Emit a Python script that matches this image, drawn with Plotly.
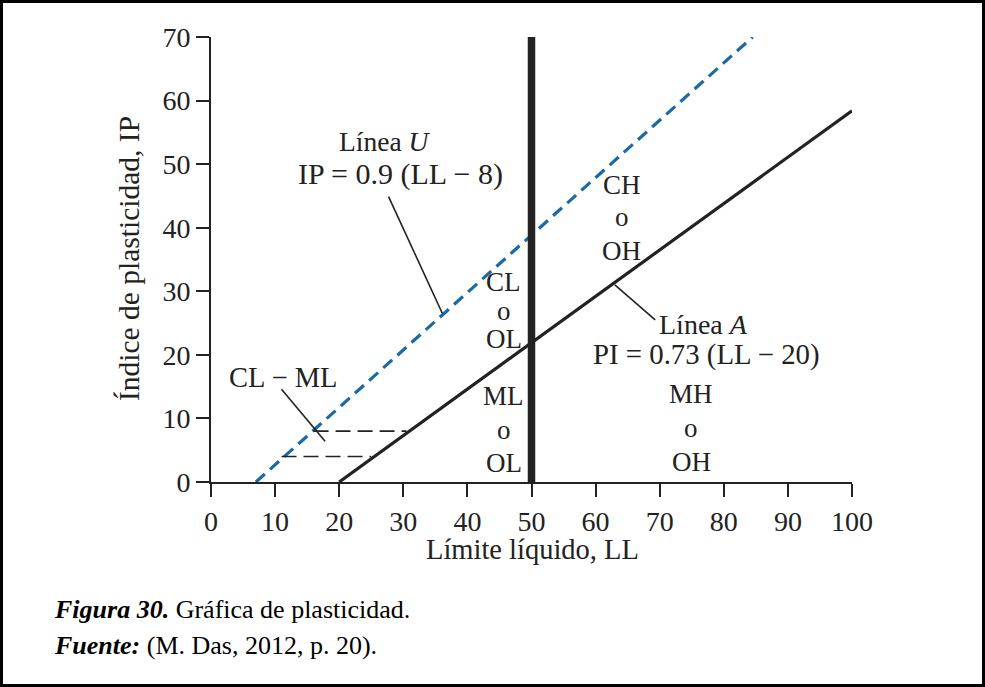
import plotly.graph_objects as go

# ---- data ----
u_line_ll = [7, 84.5]
u_line_ip = [0, 70]
a_line_ll = [20, 100]
a_line_ip = [0, 58.4]
div_ll = [50, 50]
div_ip = [0, 70]
clml_upper_ll = [16, 30.5]
clml_upper_ip = [8, 8]
clml_lower_ll = [11, 25]
clml_lower_ip = [4, 4]
leader_u_ll = [27.7, 36.1]
leader_u_ip = [44.9, 26.5]
leader_a_ll = [63.0, 69.3]
leader_a_ip = [31.0, 25.5]
leader_clml_ll = [11.0, 17.8]
leader_clml_ip = [14.6, 6.4]

x_ticks = [0, 10, 20, 30, 40, 50, 60, 70, 80, 90, 100]
y_ticks = [0, 10, 20, 30, 40, 50, 60, 70]

# (text, LL, IP, font size)
labels = [
    ("Línea <i>U</i>", 27.1, 53.5, 27.5),
    ("IP = 0.9 (LL − 8)", 29.6, 48.4, 30),
    ("CH", 64.1, 46.7, 27), ("o", 64.1, 41.7, 27), ("OH", 64.1, 36.4, 27),
    ("CL", 45.7, 31.4, 27), ("o", 45.7, 26.9, 27), ("OL", 45.7, 22.5, 27),
    ("ML", 45.7, 13.5, 27), ("o", 45.7, 8.2, 27), ("OL", 45.7, 3.0, 27),
    ("Línea <i>A</i>", 76.9, 24.7, 28),
    ("PI = 0.73 (LL − 20)", 77.3, 20.1, 28.8),
    ("MH", 74.9, 13.9, 27), ("o", 74.9, 8.5, 27), ("OH", 74.9, 3.2, 27),
    ("CL − ML", 11.2, 16.4, 28.5),
]

# ---- layout geometry ----
W, H = 985, 687
L, R, T, B = 211, 852, 37, 482
def px(x): return (x - L) / (R - L)
def py(y): return (B - y) / (B - T)

FONT = "Liberation Serif"
INK = "#222222"
BLUE = "#1a6aa8"

fig = go.Figure()
fig.add_trace(go.Scatter(x=u_line_ll, y=u_line_ip, mode="lines",
                         line=dict(color=BLUE, width=3.2, dash="12px,7px")))
fig.add_trace(go.Scatter(x=a_line_ll, y=a_line_ip, mode="lines",
                         line=dict(color=INK, width=3.2)))
fig.add_trace(go.Scatter(x=div_ll, y=div_ip, mode="lines",
                         line=dict(color=INK, width=7.5)))
for xs, ys in [(clml_upper_ll, clml_upper_ip), (clml_lower_ll, clml_lower_ip)]:
    fig.add_trace(go.Scatter(x=xs, y=ys, mode="lines",
                             line=dict(color=INK, width=1.6, dash="15px,7px")))
for xs, ys in [(leader_u_ll, leader_u_ip), (leader_a_ll, leader_a_ip),
               (leader_clml_ll, leader_clml_ip)]:
    fig.add_trace(go.Scatter(x=xs, y=ys, mode="lines",
                             line=dict(color=INK, width=1.6)))

anns = []
for txt, x, y, fs in labels:
    anns.append(dict(text=txt, x=x, y=y, xref="x", yref="y", showarrow=False,
                     font=dict(family=FONT, size=fs, color=INK),
                     xanchor="center", yanchor="middle"))
# axis titles
anns.append(dict(text="Límite líquido, LL", x=px(532), y=py(549), xref="paper", yref="paper",
                 showarrow=False, font=dict(family=FONT, size=28.5, color=INK),
                 xanchor="center", yanchor="middle"))
anns.append(dict(text="Índice de plasticidad, IP", x=px(129), y=py(259), xref="paper", yref="paper",
                 showarrow=False, textangle=-90, font=dict(family=FONT, size=29.5, color=INK),
                 xanchor="center", yanchor="middle"))
# caption
anns.append(dict(text="<b><i>Figura 30.</i></b> Gráfica de plasticidad.", x=px(52), y=py(609),
                 xref="paper", yref="paper", showarrow=False,
                 font=dict(family=FONT, size=26, color="#000"), xanchor="left", yanchor="middle"))
anns.append(dict(text="<b><i>Fuente:</i></b> (M. Das, 2012, p. 20).", x=px(52), y=py(645),
                 xref="paper", yref="paper", showarrow=False,
                 font=dict(family=FONT, size=26, color="#000"), xanchor="left", yanchor="middle"))

shapes = [dict(type="rect", xref="paper", yref="paper",
               x0=px(1.5), x1=px(983.5), y0=py(685.5), y1=py(1.5),
               line=dict(color="#000", width=3), fillcolor="rgba(0,0,0,0)", layer="above")]

axis_common = dict(showgrid=False, zeroline=False, showline=True, linecolor=INK, linewidth=2,
                   ticks="outside", ticklen=13, tickwidth=2, tickcolor=INK,
                   tickfont=dict(family=FONT, size=28, color=INK))

fig.update_layout(
    width=W, height=H, autosize=False,
    margin=dict(l=L, r=W - R, t=T, b=H - B, pad=0),
    paper_bgcolor="white", plot_bgcolor="white",
    showlegend=False,
    xaxis=dict(range=[0, 100], tickvals=x_ticks, **axis_common),
    yaxis=dict(range=[0, 70], tickvals=y_ticks, **axis_common),
    annotations=anns, shapes=shapes,
)
fig.write_html("out.html", config={"displayModeBar": False},
               post_script="document.body.style.margin='0px';")
